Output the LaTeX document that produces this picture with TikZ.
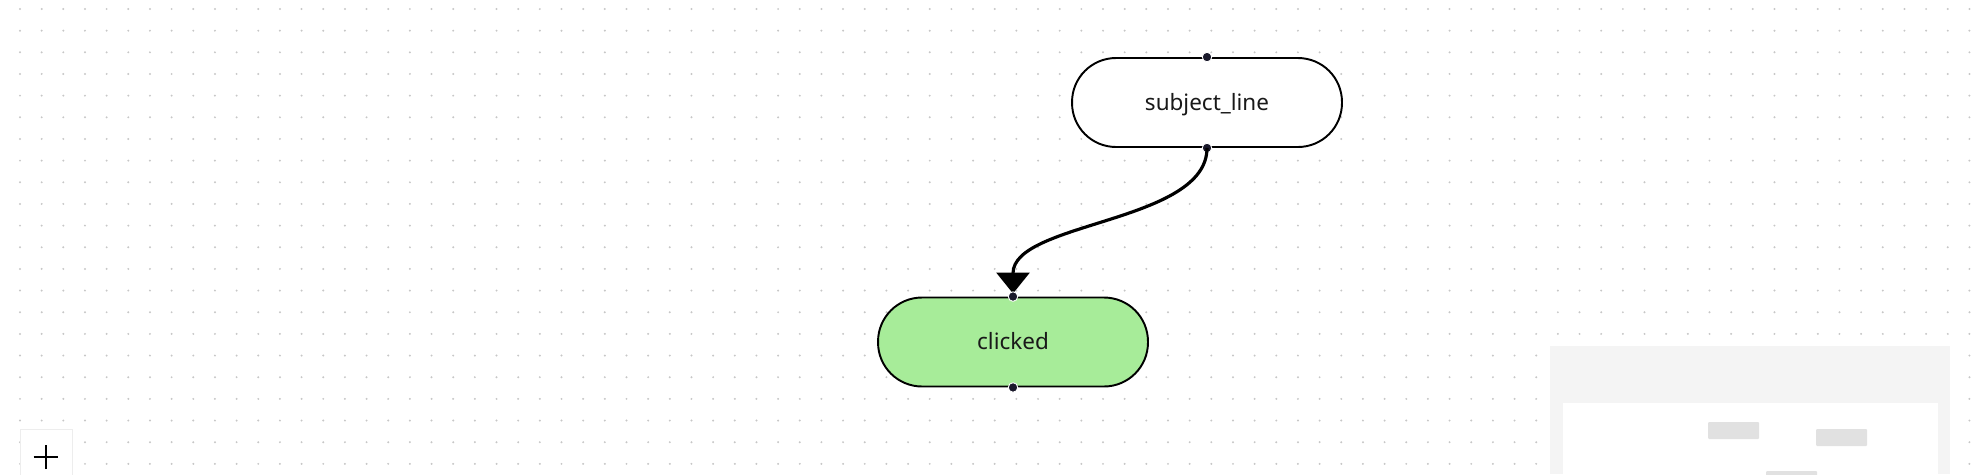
\documentclass[tikz,border=0pt]{standalone}
\usepackage{fontspec}
\setmainfont{Noto Sans}
\usepackage{tikz}
\usetikzlibrary{arrows.meta}
\definecolor{ink}{HTML}{1A192B}
\definecolor{okgreen}{HTML}{A7EC99}
\definecolor{mapbg}{HTML}{F4F4F4}
\definecolor{mapnode}{HTML}{E1E1E1}
\tikzset{
  state/.style={draw=black, line width=1.1pt, fill=white, rounded corners=0.88cm,
                minimum width=5.4cm, minimum height=1.78cm, inner sep=0pt,
                text height=9pt, text depth=0pt,
                font=\fontsize{12.8}{14}\selectfont, text=black!90},
  hit/.style={state, fill=okgreen},                                  % reached state
  handle/.style={circle, fill=ink, draw=white, line width=0.5pt,
                 minimum size=0.19cm, inner sep=0pt},
  flow/.style={draw=black, line width=1.8pt, -{Triangle[length=4.2mm, width=6.6mm]},
               shorten >=0.06cm},
  griddot/.style={fill=black!22},
}
\begin{document}
\begin{tikzpicture}[x=0.02cm, y=-0.02cm]
  \useasboundingbox (0,0) rectangle (1986,474);
  % ---------------- background dots ----------------
  \foreach \i in {0,...,90}
    \foreach \j in {0,...,21}
      \fill[griddot] (20+21.66*\i, 9+21.66*\j) circle (0.022cm);
  % ---------------- states ----------------
  \node[state] (subj) at (1207,102.5) {subject\_line};
  \node[hit]   (clk)  at (1013,342)   {clicked};
  \node[handle] (subj-in)  at (subj.north) {};
  \node[handle] (subj-out) at (subj.south) {};
  \node[handle] (clk-out)  at (clk.south)  {};
  \draw[flow] (subj-out.center) .. controls +(0,75) and +(0,-75) .. (clk.north);
  \node[handle] (clk-in)   at (clk.north)  {};
  % ---------------- minimap ----------------
  \fill[mapbg] (1550,346) rectangle (1950,474);
  \fill[white] (1563,403) rectangle (1938,474);
  \fill[mapnode, rounded corners=0.02cm] (1708,422) rectangle (1759,439);
  \fill[mapnode, rounded corners=0.02cm] (1816,429) rectangle (1867,446);
  \fill[mapnode, rounded corners=0.02cm] (1766,471) rectangle (1817,480);
  % ---------------- zoom button ----------------
  \node[draw=black!7, fill=white, minimum width=1.04cm, minimum height=1.1cm,
        inner sep=0pt] (zoomin) at (46,457) {};
  \draw[line width=1.2pt] ([xshift=-0.25cm]zoomin.center) -- ([xshift=0.25cm]zoomin.center)
        ([yshift=-0.24cm]zoomin.center) -- ([yshift=0.24cm]zoomin.center);
\end{tikzpicture}
\end{document}
